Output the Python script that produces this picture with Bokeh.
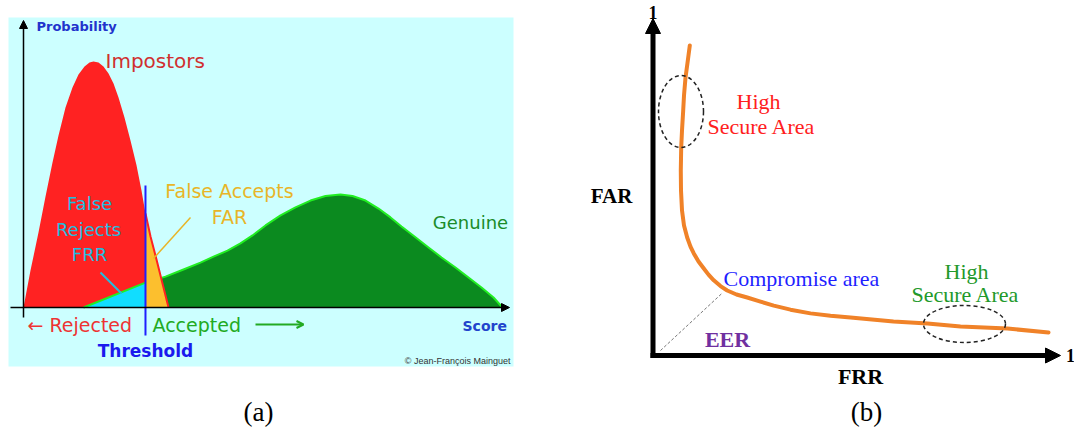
from bokeh.plotting import figure
from bokeh.layouts import row
from bokeh.models import Label, Arrow, NormalHead, OpenHead, Range1d
from bokeh.embed import file_html
from bokeh.resources import INLINE

# ---------------- data ----------------
# (a) score distributions (score 0..100, probability 0..1)
SCORE_IMP = [0.0, 1.44, 3.09, 4.54, 5.98, 7.22, 8.66, 10.10, 11.34, 12.58, 13.61, 14.43,
             15.46, 16.49, 17.53, 18.56, 19.59, 20.82, 22.06, 23.30, 24.33, 25.15,
             26.19, 27.42, 28.66, 29.90]
PROB_IMP = [0.0, 0.129, 0.262, 0.388, 0.507, 0.601, 0.699, 0.769, 0.815, 0.843, 0.857, 0.860,
            0.857, 0.843, 0.818, 0.783, 0.734, 0.664, 0.584, 0.497, 0.409, 0.329,
            0.248, 0.168, 0.084, 0.0]
SCORE_GEN = [12.37, 25.15, 29.28, 32.99, 36.49, 39.18, 42.06, 44.74, 47.22, 49.90,
             53.00, 56.08, 59.18, 62.27, 65.36, 67.84, 70.52, 73.20, 75.67, 77.94,
             80.62, 83.51, 86.19, 89.07, 91.75, 94.43, 96.91, 98.76]
PROB_GEN = [0.0, 0.087, 0.108, 0.133, 0.157, 0.178, 0.199, 0.224, 0.252, 0.287,
            0.322, 0.350, 0.374, 0.390, 0.395, 0.390, 0.374, 0.346, 0.315, 0.283,
            0.248, 0.210, 0.175, 0.140, 0.105, 0.070, 0.035, 0.0]
THRESHOLD = 25.15

# (b) FAR against FRR
FRR = [0.0903, 0.0847, 0.0798, 0.0761, 0.0741, 0.0712, 0.0692, 0.0682, 0.0687, 0.0712,
       0.0761, 0.0839, 0.0920, 0.1001, 0.1117, 0.1247, 0.1362, 0.1491, 0.1656, 0.1821,
       0.2049, 0.2312, 0.2638, 0.2964, 0.3374, 0.3865, 0.4356, 0.4847, 0.5902, 0.6736,
       0.7546, 0.8699, 0.9706]
FAR = [0.920, 0.869, 0.825, 0.772, 0.727, 0.668, 0.617, 0.549, 0.490, 0.430,
       0.386, 0.350, 0.323, 0.303, 0.279, 0.258, 0.240, 0.223, 0.206, 0.193,
       0.181, 0.172, 0.160, 0.148, 0.136, 0.125, 0.118, 0.113, 0.101, 0.095,
       0.086, 0.080, 0.068]
SECURE_FRR = [0.0687, 0.7644]
SECURE_FAR = [0.724, 0.0935]
EER_FRR = [0.0184, 0.1698]
EER_FAR = [0.0148, 0.185]

W, H = 537, 434


def make_fig(xr, yr):
    f = figure(width=W, height=H, x_range=Range1d(*xr), y_range=Range1d(*yr),
               output_backend="svg", toolbar_location=None, min_border=0,
               x_axis_location=None, y_axis_location=None)
    f.xgrid.visible = False
    f.ygrid.visible = False
    f.outline_line_color = None
    f.background_fill_color = "white"
    f.border_fill_color = "white"
    return f


# ---------------- panel (a) ----------------
def ax_(px):
    return (px - 23) / 4.85


def ay_(py):
    return (307 - py) / 286


fa = make_fig((ax_(0), ax_(W)), (ay_(H), ay_(0)))
fa.quad(left=ax_(8), right=ax_(513), bottom=ay_(366), top=ay_(17),
        fill_color="#ccffff", line_color=None)

# genuine distribution (green) and impostor distribution (red)
fa.patch(SCORE_GEN, PROB_GEN, fill_color="#0b8a1f", line_color=None)
fa.patch(SCORE_IMP, PROB_IMP, fill_color="#ff2222", line_color=None)

# false rejects: genuine scores below the threshold
frr_x = [s for s in SCORE_GEN if s <= THRESHOLD] + [THRESHOLD]
frr_y = [p for s, p in zip(SCORE_GEN, PROB_GEN) if s <= THRESHOLD] + [0.0]
fa.patch(frr_x, frr_y, fill_color="#11ddff", line_color=None)
fa.line(SCORE_GEN, PROB_GEN, line_color="#22ee22", line_width=2, line_join="round")

# false accepts: impostor scores above the threshold
far_x = [THRESHOLD] + [s for s in SCORE_IMP if s >= THRESHOLD]
far_y = [0.0] + [p for s, p in zip(SCORE_IMP, PROB_IMP) if s >= THRESHOLD]
fa.patch(far_x, far_y, fill_color="#fcbf2e", line_color=None)
fa.line([s for s in SCORE_IMP if s >= THRESHOLD],
        [p for s, p in zip(SCORE_IMP, PROB_IMP) if s >= THRESHOLD],
        line_color="#ff2222", line_width=2)

fa.segment(x0=THRESHOLD, y0=ay_(335), x1=THRESHOLD, y1=ay_(185),
           line_color="#1f1fff", line_width=2)

# axes
fa.add_layout(Arrow(end=NormalHead(size=8, fill_color="black", line_color="black"),
                    x_start=0, y_start=ay_(317), x_end=0, y_end=ay_(20),
                    line_color="black", line_width=1.5))
fa.add_layout(Arrow(end=NormalHead(size=8, fill_color="black", line_color="black"),
                    x_start=ax_(10), y_start=0, x_end=ax_(509), y_end=0,
                    line_color="black", line_width=1.5))
fa.add_layout(Arrow(end=OpenHead(size=7, line_color="#22aa22", line_width=2),
                    x_start=ax_(255), y_start=ay_(324), x_end=ax_(303), y_end=ay_(324),
                    line_color="#22aa22", line_width=2))

# leader lines
fa.segment(x0=ax_(190), y0=ay_(217), x1=ax_(153), y1=ay_(258), line_color="#e8b528", line_width=1.5)
fa.segment(x0=ax_(100), y0=ay_(272), x1=ax_(121), y1=ay_(293), line_color="#22bde0", line_width=2)

SANS = "DejaVu Sans"
SERIF = "Liberation Serif"


def lab_a(text, px, py, color, size, align="left", style="normal", font=SANS):
    fa.add_layout(Label(x=ax_(px), y=ay_(py), text=text, text_color=color,
                        text_font_size=f"{size}px", text_align=align, text_baseline="middle",
                        text_font=font, text_font_style=style))


lab_a("Probability", 36, 26, "#2233cc", 13, style="bold")
lab_a("Impostors", 105, 60, "#d03030", 20)
lab_a("False", 89, 203, "#22bde0", 18, "center")
lab_a("Rejects", 88, 229, "#22bde0", 18, "center")
lab_a("FRR", 89, 254, "#22bde0", 18, "center")
lab_a("False Accepts", 229, 190, "#e8b528", 19, "center")
lab_a("FAR", 229, 216, "#e8b528", 19, "center")
lab_a("Genuine", 470, 222, "#1a8c2a", 18, "center")
lab_a("\u2190 Rejected", 27, 324, "#ee3333", 19)
lab_a("Accepted", 152, 324, "#22aa22", 19)
lab_a("Score", 462, 325, "#2244cc", 14, style="bold")
lab_a("Threshold", 145, 350, "#1a1aee", 17, "center", style="bold")
lab_a("\u00a9 Jean-Fran\u00e7ois Mainguet", 510, 360, "#333333", 9, "right", font="Liberation Sans")
lab_a("(a)", 258, 411, "black", 27, "center", font=SERIF)

# ---------------- panel (b) ----------------
OFF = W


def bx_(px):
    return (px - 652.5) / 407.5


def by_(py):
    return (355 - py) / 337


fb = make_fig((bx_(OFF), bx_(OFF + W)), (by_(H), by_(0)))

fb.add_layout(Arrow(end=NormalHead(size=15, fill_color="black", line_color="black"),
                    x_start=0, y_start=by_(357.5), x_end=0, y_end=1.0,
                    line_color="black", line_width=5))
fb.add_layout(Arrow(end=NormalHead(size=15, fill_color="black", line_color="black"),
                    x_start=bx_(650), y_start=0, x_end=1.0, y_end=0,
                    line_color="black", line_width=5))

fb.line(EER_FRR, EER_FAR, line_color="#777777", line_width=1, line_dash="3 2")
fb.line(FRR, FAR, line_color="#f08228", line_width=4, line_cap="round", line_join="round")
fb.ellipse(x=SECURE_FRR, y=SECURE_FAR, width=[45 / 407.5, 82 / 407.5], height=[72 / 337, 37 / 337],
           fill_color=None, line_color="#222222", line_width=1.5, line_dash="4 3")


def lab_b(text, px, py, color, size, align="center", style="normal"):
    fb.add_layout(Label(x=bx_(px), y=by_(py), text=text, text_color=color,
                        text_font_size=f"{size}px", text_align=align, text_baseline="middle",
                        text_font=SERIF, text_font_style=style))


lab_b("1", 652.5, 12, "black", 18, style="bold")
lab_b("1", 1070, 355, "black", 18, style="bold")
lab_b("High", 758, 101, "#ff2020", 22)
lab_b("Secure Area", 761, 126, "#ff2020", 22)
lab_b("Compromise area", 723, 278, "#1f1fff", 22, "left")
lab_b("High", 966, 271, "#22992a", 22)
lab_b("Secure Area", 965, 294, "#22992a", 22)
lab_b("EER", 727, 339, "#7030a0", 22, style="bold")
lab_b("FAR", 611, 195, "black", 21, style="bold")
lab_b("FRR", 860, 376, "black", 22, style="bold")
lab_b("(b)", 866, 411, "black", 27)

layout = row(fa, fb)
open("out.html", "w").write(file_html(layout, INLINE))
